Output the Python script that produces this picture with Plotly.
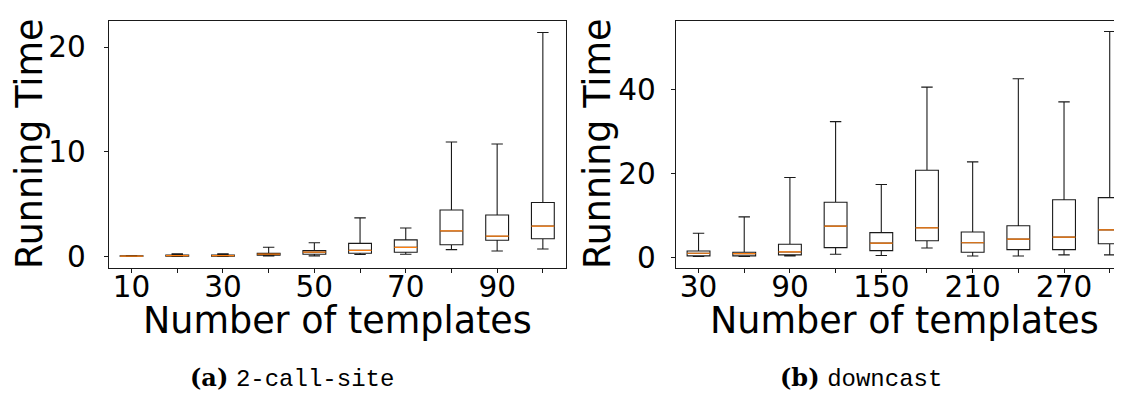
import plotly.graph_objects as go

# ---- data: (a) 2-call-site ----
cats_a = [10, 20, 30, 40, 50, 60, 70, 80, 90, 100]
a_low = [0.01, 0.0, 0.0, 0.06, 0.06, 0.19, 0.22, 0.66, 0.53, 0.72]
a_q1 = [0.02, 0.03, 0.03, 0.12, 0.22, 0.31, 0.41, 1.12, 1.56, 1.69]
a_med = [0.04, 0.08, 0.08, 0.22, 0.41, 0.59, 0.88, 2.44, 1.94, 2.91]
a_q3 = [0.06, 0.15, 0.15, 0.31, 0.56, 1.25, 1.59, 4.44, 3.97, 5.16]
a_high = [0.09, 0.25, 0.25, 0.88, 1.31, 3.69, 2.72, 10.94, 10.75, 21.4]

# ---- data: (b) downcast ----
cats_b = [30, 60, 90, 120, 150, 180, 210, 240, 270, 300]
b_low = [0.16, 0.16, 0.3, 0.7, 0.4, 2.2, 0.3, 0.3, 0.55, 0.55]
b_q1 = [0.31, 0.31, 0.55, 2.27, 1.56, 3.9, 1.17, 1.8, 1.8, 3.2]
b_med = [0.94, 0.86, 1.25, 7.4, 3.36, 7.0, 3.44, 4.3, 4.77, 6.5]
b_q3 = [1.48, 1.17, 3.1, 13.1, 5.86, 20.7, 6.0, 7.5, 13.7, 14.2]
b_high = [5.7, 9.6, 19.0, 32.3, 17.3, 40.5, 22.7, 42.5, 37.0, 53.75]

yticks_a = [0, 10, 20]
yticks_b = [0, 20, 40]

W, H = 1122, 394
FONT = "DejaVu Sans"
LINE = "#1a1a1a"


def fx(p):
    return p / W


def fy(p):
    return 1 - p / H


fig = go.Figure()


def add_panel(cats, low, q1, med, q3, high, xa, ya):
    pos = list(range(1, len(cats) + 1))
    fig.add_trace(go.Box(
        x=pos, q1=q1, median=med, q3=q3, lowerfence=low, upperfence=high,
        width=0.5, whiskerwidth=0.5, boxpoints=False,
        line=dict(color=LINE, width=1.1), fillcolor="rgba(0,0,0,0)",
        xaxis=xa, yaxis=ya, showlegend=False, hoverinfo="skip"))
    mx, my = [], []
    for p, m in zip(pos, med):
        mx += [p - 0.25, p + 0.25, None]
        my += [m, m, None]
    fig.add_trace(go.Scatter(
        x=mx, y=my, mode="lines", line=dict(color="#ff7f0e", width=1.2),
        xaxis=xa, yaxis=ya, showlegend=False, hoverinfo="skip"))
    return pos


pos_a = add_panel(cats_a, a_low, a_q1, a_med, a_q3, a_high, "x", "y")
pos_b = add_panel(cats_b, b_low, b_q1, b_med, b_q3, b_high, "x2", "y2")

ydom = [fy(264.3), fy(12.9)]
common = dict(showgrid=False, zeroline=False, ticks="outside", ticklen=4,
              tickwidth=1, tickcolor=LINE, showline=True, linecolor=LINE,
              linewidth=1, tickfont=dict(family=FONT, size=29.5, color="black"))

fig.update_layout(
    width=W, height=H, autosize=False,
    margin=dict(l=0, r=0, t=0, b=0),
    paper_bgcolor="white", plot_bgcolor="white",
    xaxis=dict(domain=[fx(100.7), fx(557.7)], range=[0.5, 10.5], anchor="y",
               tickvals=pos_a, ticklabelstandoff=-11,
               ticktext=[str(c) if i % 2 == 0 else "" for i, c in enumerate(cats_a)],
               mirror=True, **common),
    yaxis=dict(domain=ydom, range=[-1.06, 22.53], anchor="x",
               tickvals=yticks_a, ticklabelstandoff=12, mirror=True, **common),
    xaxis2=dict(domain=[fx(667.7), 1.0], range=[0.5, 10.444], anchor="y2",
                tickvals=pos_b, ticklabelstandoff=-11,
                ticktext=[str(c) if i % 2 == 0 else "" for i, c in enumerate(cats_b)],
                mirror=True, **common),
    yaxis2=dict(domain=ydom, range=[-2.48, 56.34], anchor="x2",
                tickvals=yticks_b, ticklabelstandoff=9, mirror=False, **common),
)

tfont = dict(family=FONT, size=36.5, color="black")
anns = [
    dict(text="Number of templates", x=fx(329.2), y=fy(318), xanchor="center",
         yanchor="middle", font=tfont),
    dict(text="Number of templates", x=fx(896), y=fy(318), xanchor="center",
         yanchor="middle", font=tfont),
    dict(text="Running Time", x=fx(21), y=fy(138.5), xanchor="center",
         yanchor="middle", textangle=-90, font=tfont),
    dict(text="Running Time", x=fx(589), y=fy(138.5), xanchor="center",
         yanchor="middle", textangle=-90, font=tfont),
    dict(text="<b>(a)</b> <span style='font-family:Liberation Mono'>2-call-site</span>",
         x=fx(180), y=fy(377), xanchor="left", yanchor="middle",
         font=dict(family="DejaVu Serif", size=24, color="black")),
    dict(text="<b>(b)</b> <span style='font-family:Liberation Mono'>downcast</span>",
         x=fx(770), y=fy(377), xanchor="left", yanchor="middle",
         font=dict(family="DejaVu Serif", size=24, color="black")),
]
for a in anns:
    a.update(xref="paper", yref="paper", showarrow=False)
fig.update_layout(annotations=anns)

fig.write_html("out.html")
